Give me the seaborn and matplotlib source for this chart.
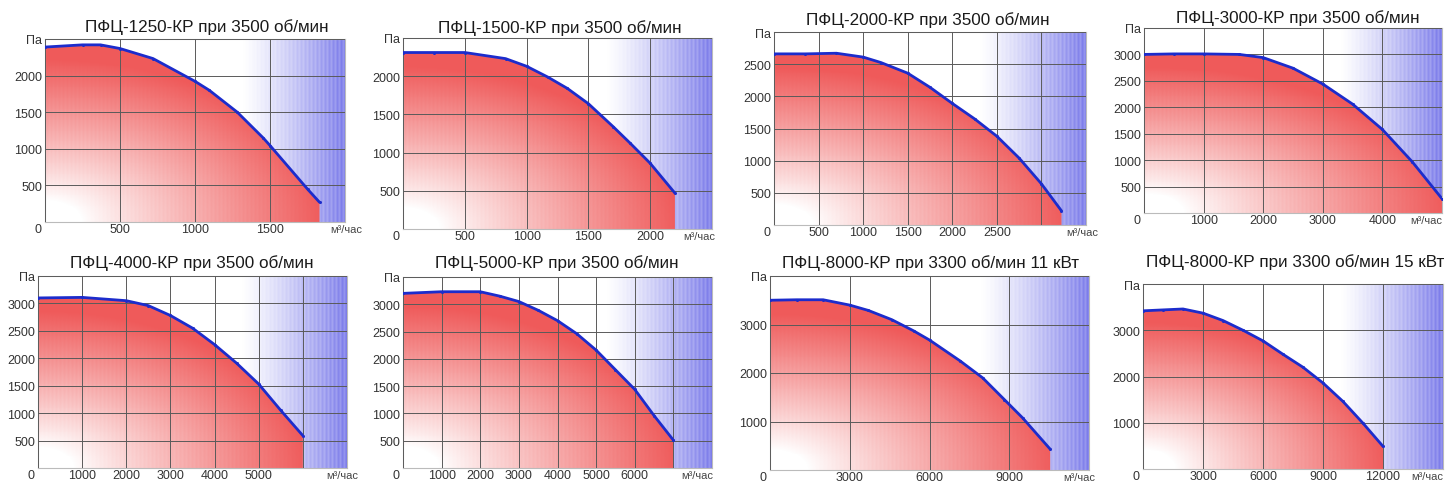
import numpy as np
import pandas as pd
import matplotlib.pyplot as plt
import seaborn as sns
from matplotlib.colors import to_rgb

titles = [
    "ПФЦ-1250-КР при 3500 об/мин",
    "ПФЦ-1500-КР при 3500 об/мин",
    "ПФЦ-2000-КР при 3500 об/мин",
    "ПФЦ-3000-КР при 3500 об/мин",
    "ПФЦ-4000-КР при 3500 об/мин",
    "ПФЦ-5000-КР при 3500 об/мин",
    "ПФЦ-8000-КР при 3300 об/мин 11 кВт",
    "ПФЦ-8000-КР при 3300 об/мин 15 кВт",
]
q_1250 = [0, 250, 370, 500, 720, 1000, 1095, 1282, 1456, 1500, 1750, 1830]
p_1250 = [2390, 2420, 2420, 2370, 2233, 1922, 1800, 1500, 1146, 1045, 450, 270]
q_1500 = [0, 250, 500, 830, 1000, 1170, 1330, 1500, 1700, 1840, 2000, 2200]
p_1500 = [2310, 2310, 2310, 2230, 2130, 1990, 1840, 1640, 1340, 1120, 860, 470]
q_2000 = [0, 350, 700, 1000, 1200, 1500, 1750, 2000, 2250, 2500, 2750, 3000, 3225]
p_2000 = [2660, 2660, 2670, 2610, 2525, 2360, 2140, 1890, 1650, 1380, 1040, 640, 220]
q_3000 = [0, 500, 1000, 1600, 2000, 2500, 3000, 3500, 4000, 4500, 5000]
p_3000 = [3000, 3010, 3010, 3000, 2940, 2740, 2440, 2060, 1580, 970, 270]
q_4000 = [0, 1000, 2000, 2500, 3000, 3500, 4000, 4500, 5000, 5500, 6000]
p_4000 = [3100, 3110, 3050, 2960, 2780, 2550, 2250, 1910, 1530, 1050, 590]
q_5000 = [0, 1000, 2000, 2500, 3000, 3500, 4000, 4500, 5000, 5500, 6000, 6500, 7000]
p_5000 = [3200, 3230, 3230, 3150, 3050, 2890, 2700, 2460, 2160, 1800, 1440, 960, 510]
q_8000_11 = [0, 1000, 2000, 3000, 3700, 4580, 5400, 6000, 7150, 8000, 8820, 9500, 10540]
p_8000_11 = [3500, 3510, 3510, 3400, 3290, 3100, 2870, 2680, 2250, 1900, 1450, 1076, 430]
q_8000_15 = [0, 1000, 2000, 3000, 4000, 5000, 6000, 7000, 8000, 9000, 10000, 11000, 12000]
p_8000_15 = [3420, 3440, 3460, 3370, 3210, 3000, 2770, 2480, 2200, 1860, 1460, 990, 490]

flows = [q_1250, q_1500, q_2000, q_3000, q_4000, q_5000, q_8000_11, q_8000_15]
pressures = [p_1250, p_1500, p_2000, p_3000, p_4000, p_5000, p_8000_11, p_8000_15]

x_max = [2000, 2500, 3500, 5000, 7000, 8000, 12000, 15000]
x_step = [500, 500, 500, 1000, 1000, 1000, 3000, 3000]
x_labels = [
    [500, 1000, 1500],
    [500, 1000, 1500, 2000],
    [500, 1000, 1500, 2000, 2500],
    [1000, 2000, 3000, 4000],
    [1000, 2000, 3000, 4000, 5000],
    [1000, 2000, 3000, 4000, 5000, 6000],
    [3000, 6000, 9000],
    [3000, 6000, 9000, 12000],
]
y_max = [2500, 2500, 3000, 3500, 3500, 3500, 4000, 4000]
y_step = [500, 500, 500, 500, 500, 500, 1000, 1000]

# Раскладка в пикселях: (лево, верх, право, низ), положение заголовка, сдвиг подписи единиц
W, H = 1445, 485
boxes = [(45, 40, 345, 223), (403, 39, 712, 230), (774, 33, 1086, 226), (1144, 29, 1442, 214),
         (38, 277, 347, 469), (403, 278, 712, 469), (770, 277, 1089, 471), (1143, 285, 1443, 470)]
title_pos = [(207, 27), (560, 28), (928, 20), (1298, 18), (192, 263), (557, 263), (930, 263), (1295, 262)]
unit_dx = [17, 3, 12, 0, 11, 1, 6, 0]

red = np.array(to_rgb("#ef5a5a"))
blue = np.array(to_rgb("#7a7aea"))
white = np.ones(3)

sns.set_theme(style="white")
plt.rcParams["font.family"] = ["Liberation Sans", "DejaVu Sans"]
fig = plt.figure(figsize=(W / 100, H / 100), dpi=100)

for i in range(8):
    l, t, r, b = boxes[i]
    ax = fig.add_axes([l / W, 1 - b / H, (r - l) / W, (b - t) / H])
    xm, ym = x_max[i], y_max[i]
    q = np.array(flows[i], dtype=float)
    p = np.array(pressures[i], dtype=float)

    npx = r - l
    xx, yy = np.meshgrid(np.linspace(0, xm, npx), np.linspace(0, ym, 200))
    # вертикальная штриховка, как у исходной картинки
    col = np.arange(npx)[None, :]
    stripe = 0.5 + 0.5 * np.cos(2 * np.pi * col / 4.0)
    # голубая зона справа
    f = xx / xm
    a = np.clip((f - 0.66) / 0.34, 0, 1) ** 1.2
    a = a * (0.82 + 0.18 * stripe)
    img_b = white * (1 - a[..., None]) + blue * a[..., None]
    ax.imshow(img_b, extent=[0, xm, 0, ym], origin="lower", aspect="auto", zorder=0,
              interpolation="nearest")
    # красная заливка под кривой
    u = xx / q[-1]
    v = yy / p.max()
    rr = np.sqrt((0.9 * u) ** 2 + v ** 2)
    k = np.clip((rr - 0.12) / 0.8, 0, 1) ** 0.9
    k = k * (1 - 0.12 * stripe * (1 - k))
    img_r = white * (1 - k[..., None]) + red * k[..., None]
    poly = ax.fill_between(q, p, 0, facecolor="none", edgecolor="none")
    im = ax.imshow(img_r, extent=[0, xm, 0, ym], origin="lower", aspect="auto", zorder=1,
                   interpolation="nearest")
    im.set_clip_path(poly.get_paths()[0], transform=ax.transData)

    df = pd.DataFrame({"q": q, "p": p})
    sns.lineplot(data=df, x="q", y="p", ax=ax, color="#1c2ccc", lw=2, marker="o",
                 markersize=2.2, markeredgewidth=0, sort=False, zorder=4)

    ax.set_xlim(0, xm)
    ax.set_ylim(0, ym)
    xt = np.arange(0, xm + 1, x_step[i])
    ax.set_xticks(xt)
    ax.set_xticklabels([str(int(v_)) if v_ in x_labels[i] else "" for v_ in xt])
    yt = np.arange(0, ym + 1, y_step[i])
    ax.set_yticks(yt)
    ylabs = ["" if v_ == 0 else str(int(v_)) for v_ in yt]
    ylabs[-1] = "Па"
    ax.set_yticklabels(ylabs)
    ax.get_yticklabels()[-1].set_color("#666666")
    ax.tick_params(length=0, labelsize=9, colors="#333333", pad=2)
    ax.tick_params(axis="x", pad=1)
    ax.grid(True, color="#5a5a5a", lw=0.7)
    ax.set_axisbelow(False)
    for s in ax.spines.values():
        s.set_color("#bbbbbb")
        s.set_linewidth(0.8)
    ax.set_xlabel("")
    ax.set_ylabel("")
    ax.annotate("0", (0, 0), xycoords="axes fraction", xytext=(-5, -5),
                textcoords="offset points", ha="center", va="center", fontsize=9, color="#333333")
    ax.annotate("м³/час", (1, 0), xycoords="axes fraction", xytext=(unit_dx[i] * 0.72, -5),
                textcoords="offset points", ha="right", va="center", fontsize=8, color="#444444")
    tx, ty = title_pos[i]
    fig.text(tx / W, 1 - ty / H, titles[i], ha="center", va="center", fontsize=12.3, color="#1a1a1a")

plt.savefig("out.png", dpi=100)
